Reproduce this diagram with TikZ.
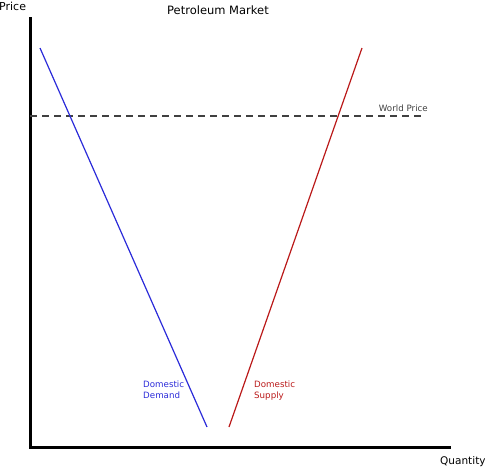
\documentclass[tikz,border=0pt]{standalone}
\usepackage{fontspec}
\setmainfont{DejaVu Sans}
\usepackage{tikz}
\usetikzlibrary{positioning}

\begin{document}
\begin{tikzpicture}[x=1pt,y=-1pt,
  axis/.style={line width=3pt},
  curve/.style={line width=1.2pt},
  lab/.style={font=\fontsize{8.7}{10.5}\selectfont,inner sep=0pt,align=left},
  ttl/.style={font=\fontsize{10.5}{12}\selectfont,inner sep=0pt}]
  \useasboundingbox (0,0) rectangle (485,469);
  % axes
  \coordinate (O) at (30,447);
  \coordinate (Ytop) at (30,17);
  \coordinate (Xend) at (451,447);
  \draw[axis] (Ytop) -- (O) -- (Xend);
  \node[ttl,font=\fontsize{11}{12}\selectfont,anchor=west] (price) at (-1,6) {Price};
  \node[ttl,anchor=west] (qty) at (440,462) {Quantity};
  \node[ttl,font=\fontsize{11.5}{13}\selectfont] (title) at (218,10) {Petroleum Market};
  % world price
  \coordinate (wp0) at (30,116);
  \coordinate (wp1) at (425,116);
  \draw[dashed,dash pattern=on 7pt off 5pt,line width=1.1pt,black!75] (wp0) -- (wp1);
  \node[lab,anchor=south east,black!75] (wpl) at (428,112) {World Price};
  % demand and supply
  \coordinate (d0) at (40,48);
  \coordinate (d1) at (207,427);
  \coordinate (s0) at (229,427);
  \coordinate (s1) at (362,48);
  \draw[curve,blue!80!white!85!black] (d0) -- (d1);
  \draw[curve,red!70!black!90!white] (s0) -- (s1);
  \node[lab,anchor=north west,blue!80!white!85!black] (dl) at (143,381) {Domestic\\Demand};
  \node[lab,anchor=north west,red!70!black!90!white] (sl) at (254,381) {Domestic\\Supply};
\end{tikzpicture}
\end{document}
